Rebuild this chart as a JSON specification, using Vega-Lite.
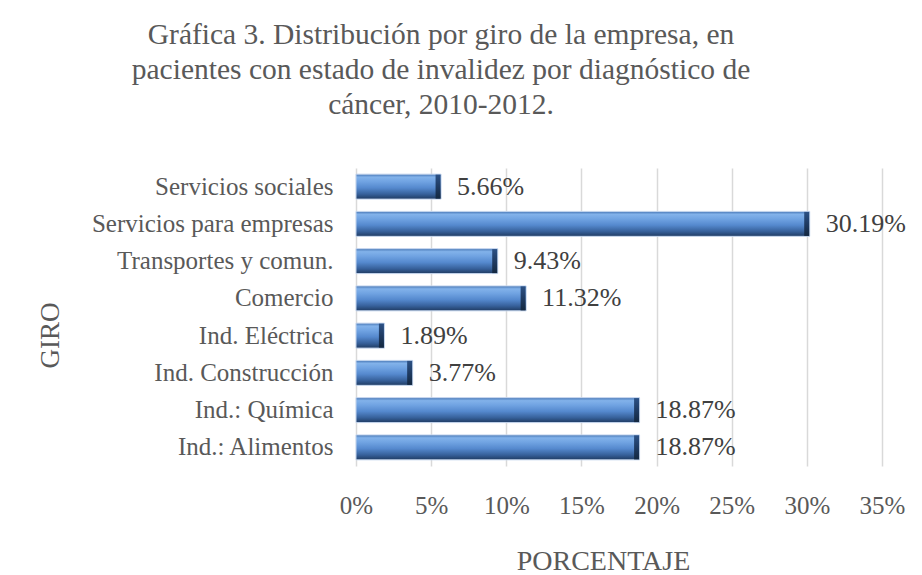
{
  "$schema": "https://vega.github.io/schema/vega-lite/v6.json",
  "width": 526,
  "height": 298,
  "autosize": "none",
  "padding": {"left": 356, "top": 168, "right": 40, "bottom": 109},
  "background": "white",
  "title": {
    "text": ["Gráfica 3. Distribución por giro de la empresa,  en", "pacientes con estado de invalidez por diagnóstico de", "cáncer,  2010-2012."],
    "font": "Liberation Serif",
    "fontSize": 29.5,
    "fontWeight": "normal",
    "color": "#595959",
    "lineHeight": 35,
    "anchor": "middle",
    "dx": -178,
    "offset": 48
  },
  "data": {
    "values": [
      {"giro": "Servicios sociales", "pct": 0.0566},
      {"giro": "Servicios para empresas", "pct": 0.3019},
      {"giro": "Transportes y comun.", "pct": 0.0943},
      {"giro": "Comercio", "pct": 0.1132},
      {"giro": "Ind. Eléctrica", "pct": 0.0189},
      {"giro": "Ind. Construcción", "pct": 0.0377},
      {"giro": "Ind.: Química", "pct": 0.1887},
      {"giro": "Ind.: Alimentos", "pct": 0.1887}
    ]
  },
  "encoding": {
    "y": {
      "field": "giro",
      "type": "nominal",
      "sort": null,
      "scale": {"paddingInner": 0.33, "paddingOuter": 0.165},
      "axis": {
        "title": "GIRO",
        "titleFont": "Liberation Serif",
        "titleFontSize": 27,
        "titleFontWeight": "normal",
        "titleColor": "#595959",
        "titleX": -306,
        "titleY": 167,
        "titleAngle": -90,
        "titleAlign": "center",
        "titleBaseline": "middle",
        "labelFont": "Liberation Serif",
        "labelFontSize": 25,
        "labelColor": "#595959",
        "labelPadding": 23,
        "labelLimit": 400,
        "ticks": false,
        "domain": false,
        "grid": false
      }
    },
    "x": {
      "field": "pct",
      "type": "quantitative",
      "scale": {"domain": [0, 0.35], "nice": false},
      "axis": {
        "values": [0, 0.05, 0.1, 0.15, 0.2, 0.25, 0.3, 0.35],
        "format": ".0%",
        "title": "PORCENTAJE",
        "titleFont": "Liberation Serif",
        "titleFontSize": 28,
        "titleFontWeight": "normal",
        "titleColor": "#595959",
        "titleX": 247,
        "titleY": 95,
        "titleAlign": "center",
        "titleBaseline": "middle",
        "labelFont": "Liberation Serif",
        "labelFontSize": 25,
        "labelColor": "#595959",
        "labelPadding": 27,
        "labelFlush": false,
        "labelOverlap": false,
        "ticks": false,
        "domain": false,
        "grid": true,
        "gridColor": "#d9d9d9",
        "gridWidth": 1.5
      }
    }
  },
  "layer": [
    {
      "mark": {
        "type": "bar",
        "color": {
          "gradient": "linear",
          "x1": 0, "y1": 0, "x2": 0, "y2": 1,
          "stops": [
            {"offset": 0, "color": "#4574b3"},
            {"offset": 0.12, "color": "#82b2ea"},
            {"offset": 0.3, "color": "#70a3e2"},
            {"offset": 0.55, "color": "#5589ce"},
            {"offset": 0.8, "color": "#37619b"},
            {"offset": 1, "color": "#1f3b62"}
          ]
        },
        "stroke": "#c5d6ee",
        "strokeWidth": 1
      }
    },
    {
      "mark": {
        "type": "tick",
        "thickness": 5,
        "size": 24,
        "xOffset": -3,
        "color": {
          "gradient": "linear",
          "x1": 0, "y1": 0, "x2": 0, "y2": 1,
          "stops": [
            {"offset": 0, "color": "#2c5185"},
            {"offset": 0.5, "color": "#1f3b62"},
            {"offset": 1, "color": "#142840"}
          ]
        },
        "opacity": 1
      }
    },
    {
      "mark": {
        "type": "text",
        "align": "left",
        "baseline": "middle",
        "dx": 16,
        "font": "Liberation Serif",
        "fontSize": 26,
        "color": "#404040"
      },
      "encoding": {
        "text": {"field": "pct", "type": "quantitative", "format": ".2%"}
      }
    }
  ],
  "config": {
    "view": {"stroke": null}
  }
}
